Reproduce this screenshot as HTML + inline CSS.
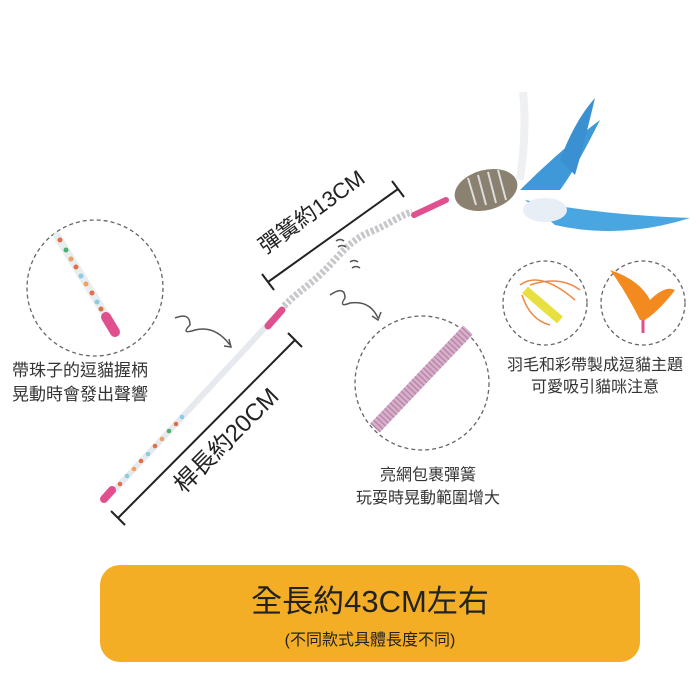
<!DOCTYPE html>
<html><head><meta charset="utf-8"><style>
body{margin:0;background:#fff;}
svg{display:block;font-family:"Liberation Sans","Noto Sans CJK TC",sans-serif;}
</style></head><body>
<svg width="700" height="700" viewBox="0 0 700 700">
<rect width="700" height="700" fill="#fff"/>
<!-- circles -->
<g fill="none" stroke="#666" stroke-width="1.3" stroke-dasharray="4 3">
<circle cx="95" cy="288" r="68"/>
<circle cx="422" cy="383" r="67"/>
<circle cx="545" cy="303" r="42"/>
<circle cx="643" cy="303" r="42"/>
</g>
<!-- left circle beaded stick -->
<line x1="57" y1="236" x2="110" y2="322" stroke="#e8eef0" stroke-width="8" stroke-linecap="round"/>
<g fill="#e0704a"><circle cx="60" cy="240" r="2.5"/><circle cx="66" cy="250" r="2.5" fill="#4bb070"/><circle cx="71" cy="259" r="2.5" fill="#f0a060"/><circle cx="76" cy="267" r="2.5"/><circle cx="81" cy="276" r="2.5" fill="#8ccbe0"/><circle cx="86" cy="284" r="2.5" fill="#f0a060"/><circle cx="92" cy="293" r="2.5"/><circle cx="97" cy="302" r="2.5" fill="#8ccbe0"/><circle cx="101" cy="309" r="2.5"/></g>
<line x1="106" y1="317" x2="115" y2="332" stroke="#e0508f" stroke-width="10" stroke-linecap="round"/>
<!-- main stick -->
<line x1="110" y1="495" x2="272" y2="320" stroke="#e6eaee" stroke-width="6"/>
<g><circle cx="120" cy="484" r="2.3" fill="#e0704a"/><circle cx="127" cy="476" r="2.3" fill="#8ccbe0"/><circle cx="134" cy="469" r="2.3" fill="#f0a060"/><circle cx="141" cy="461" r="2.3" fill="#e0704a"/><circle cx="148" cy="454" r="2.3" fill="#8ccbe0"/><circle cx="155" cy="446" r="2.3" fill="#e0704a"/><circle cx="162" cy="439" r="2.3" fill="#f0a060"/><circle cx="169" cy="431" r="2.3" fill="#4bb070"/><circle cx="176" cy="424" r="2.3" fill="#e0704a"/><circle cx="182" cy="417" r="2.3" fill="#8ccbe0"/></g>
<line x1="104" y1="499" x2="112" y2="490" stroke="#e0508f" stroke-width="8" stroke-linecap="round"/>
<line x1="268" y1="326" x2="282" y2="310" stroke="#e0508f" stroke-width="7" stroke-linecap="round"/>
<!-- spring -->
<path d="M284 306 C300 290 310 285 325 270 S350 240 370 232 S400 215 412 212" fill="none" stroke="#c8c8cc" stroke-width="7" stroke-dasharray="3 2"/>
<line x1="414" y1="215" x2="446" y2="200" stroke="#e0508f" stroke-width="6" stroke-linecap="round"/>
<!-- mouse -->
<ellipse cx="486" cy="190" rx="32" ry="20" fill="#8a8170" transform="rotate(-15 486 190)"/>
<g stroke="#ddd" stroke-width="2"><line x1="468" y1="178" x2="476" y2="205"/><line x1="478" y1="175" x2="486" y2="205"/><line x1="488" y1="172" x2="496" y2="203"/><line x1="498" y1="170" x2="506" y2="200"/></g>
<path d="M520 180 Q527 130 523 92" stroke="#eef0f2" stroke-width="8" fill="none"/>
<path d="M520 190 Q560 150 600 120 Q575 170 560 190Z" fill="#3f98d8"/>
<path d="M525 200 Q600 215 690 218 Q620 240 555 225Z" fill="#4aa6e0"/>
<path d="M560 160 Q575 120 595 98 Q585 140 575 175Z" fill="#3a90d0"/>
<ellipse cx="545" cy="210" rx="22" ry="12" fill="#e8eef6"/>
<!-- small circles content -->
<path d="M525 290 L560 320" stroke="#e8e040" stroke-width="9"/>
<path d="M520 285 Q540 270 575 300 M522 295 Q530 320 550 325 M530 285 Q560 275 580 290" stroke="#e84" stroke-width="1.5" fill="none"/>
<path d="M640 320 Q625 290 610 270 Q640 280 650 300 Q665 285 675 290 Q660 310 645 320Z" fill="#f28a20"/>
<line x1="643" y1="320" x2="643" y2="333" stroke="#e0508f" stroke-width="3"/>
<!-- middle circle spring -->
<line x1="375" y1="428" x2="468" y2="330" stroke="#d8b0cc" stroke-width="13"/>
<line x1="375" y1="428" x2="468" y2="330" stroke="#b888a8" stroke-width="13" stroke-dasharray="1.5 2.5"/>
<!-- dimension lines -->
<g stroke="#222" stroke-width="2" fill="none">
<line x1="118" y1="518" x2="295" y2="340"/><line x1="111" y1="511" x2="125" y2="525"/><line x1="288" y1="333" x2="302" y2="347"/>
<line x1="268" y1="282" x2="398" y2="189"/><line x1="262" y1="274" x2="274" y2="290"/><line x1="392" y1="181" x2="404" y2="197"/>
</g>
<!-- squiggles -->
<g stroke="#555" stroke-width="1.5" fill="none">
<path d="M175 318 Q190 312 190 325 Q180 335 195 330 Q215 325 230 345"/><path d="M224 346 L231 347 L229 339"/>
<path d="M330 295 Q345 285 345 298 Q338 308 350 303 Q370 300 378 318"/><path d="M372 316 L378 320 L381 312"/>
<path d="M336 241 q4 -3 8 0 M338 247 q4 -3 8 0 M350 262 q4 -3 8 0 M352 268 q4 -3 8 0"/>
</g>
<!-- texts -->
<g fill="#333" font-size="17">
<text x="12" y="376">帶珠子的逗貓握柄</text>
<text x="12" y="400">晃動時會發出聲響</text>
<text x="428" y="480" text-anchor="middle" font-size="16">亮網包裹彈簧</text>
<text x="428" y="503" text-anchor="middle" font-size="16">玩耍時晃動範圍增大</text>
<text x="595" y="370" text-anchor="middle" font-size="16">羽毛和彩帶製成逗貓主題</text>
<text x="595" y="392" text-anchor="middle" font-size="16">可愛吸引貓咪注意</text>
</g>
<text transform="translate(232,446) rotate(-45)" text-anchor="middle" font-size="24" fill="#222">桿長約20CM</text>
<text transform="translate(316,218) rotate(-36)" text-anchor="middle" font-size="22" fill="#222">彈簧約13CM</text>
<!-- bottom banner -->
<rect x="100" y="565" width="540" height="97" rx="20" fill="#f4ae25"/>
<text x="370" y="612" text-anchor="middle" font-size="31" fill="#222">全長約43CM左右</text>
<text x="370" y="645" text-anchor="middle" font-size="16" fill="#222">(不同款式具體長度不同)</text>
</svg>
</body></html>
